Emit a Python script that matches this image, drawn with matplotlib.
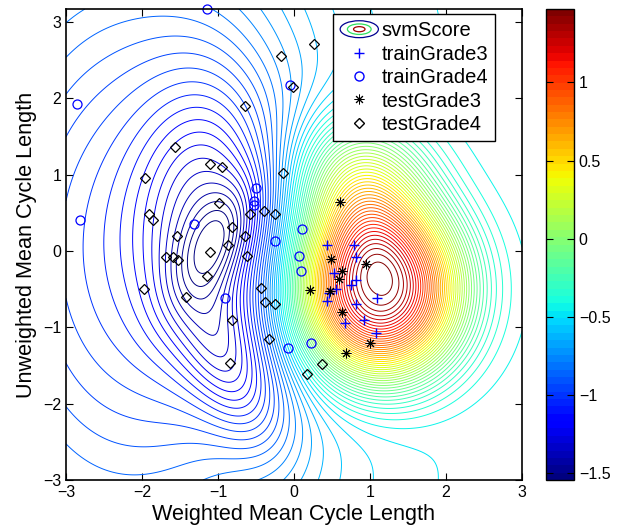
import numpy as np
import matplotlib
matplotlib.use('Agg')
import matplotlib.pyplot as plt
from matplotlib.lines import Line2D
from matplotlib.patches import Ellipse
from matplotlib.legend_handler import HandlerBase
from matplotlib.colors import Normalize
from matplotlib.cm import ScalarMappable

plt.rcParams['font.family'] = ['Liberation Sans', 'DejaVu Sans']

bias = -0.47
bump_x = [1.1, 0.85, -2.2, -1.05, -1.0, -0.75]
bump_y = [-0.5, 0.9, 0.0, 0.4, 0.15, -1.6]
bump_sx = [0.8, 0.6, 1.8, 0.65, 0.6, 0.8]
bump_sy = [0.85, 0.6, 3.2, 1.3, 0.28, 0.4]
bump_rot = [0, 0, 0, 0, 60, -65]
bump_pow = [2.4, 2, 2, 2, 2, 2]
bump_amp = [1.97, 0.75, -0.566, -0.45, -0.21, -0.31]

score_min = -1.545
score_max = 1.47
n_levels = 70

# training points
train3_x = [0.44, 0.79, 0.82, 0.52, 0.82, 0.75, 0.55, 0.46, 0.43, 1.09, 0.82, 0.92, 0.67, 1.08]
train3_y = [0.08, 0.08, -0.08, -0.29, -0.38, -0.45, -0.50, -0.55, -0.66, -0.61, -0.69, -0.90, -0.94, -1.07]
train4_x = [-1.15, -2.85, -2.82, -0.05, -0.50, -0.53, -0.53, -1.32, 0.10, -0.25, 0.07, 0.09, -0.91, -0.08, 0.23]
train4_y = [3.17, 1.93, 0.41, 2.18, 0.82, 0.65, 0.60, 0.36, 0.29, 0.13, -0.07, -0.26, -0.61, -1.27, -1.21]

# test points
test3_x = [0.61, 0.49, 0.63, 0.59, 0.95, 0.21, 0.47, 0.63, 1.00, 0.68]
test3_y = [0.64, -0.11, -0.26, -0.37, -0.17, -0.51, -0.53, -0.80, -1.21, -1.33]
test4_x = [0.26, -0.17, -0.01, -0.64, -1.56, -1.96, -1.10, -0.95, -0.15, -0.99, -1.91, -1.86,
           -0.58, -0.39, -0.25, -0.81, -1.54, -0.64, -0.87, -1.11, -0.62, -1.69, -1.59, -1.52,
           -1.15, -1.98, -1.42, -0.43, -0.38, -0.25, -0.82, -0.33, -0.84, 0.17, 0.37]
test4_y = [2.71, 2.55, 2.15, 1.90, 1.36, 0.95, 1.14, 1.10, 1.02, 0.63, 0.48, 0.41,
           0.49, 0.53, 0.48, 0.32, 0.20, 0.19, 0.08, -0.01, -0.06, -0.08, -0.08, -0.12,
           -0.33, -0.50, -0.60, -0.48, -0.67, -0.70, -0.91, -1.15, -1.47, -1.61, -1.48]

xx, yy = np.meshgrid(np.linspace(-3, 3, 301), np.linspace(-3, 3.17, 301))
score = np.full_like(xx, bias)
for cx, cy, sx, sy, rot, p, amp in zip(bump_x, bump_y, bump_sx, bump_sy,
                                       bump_rot, bump_pow, bump_amp):
    t = np.deg2rad(rot)
    dx, dy = xx - cx, yy - cy
    u = dx * np.cos(t) + dy * np.sin(t)
    v = -dx * np.sin(t) + dy * np.cos(t)
    r2 = (u / sx) ** 2 + (v / sy) ** 2
    score += amp * np.exp(-0.5 * r2 ** (p / 2))

cmap = plt.get_cmap('jet', 64)
norm = Normalize(score_min, score_max)


class ContourIcon(HandlerBase):
    def create_artists(self, legend, orig_handle, xdescent, ydescent,
                       width, height, fontsize, trans):
        cx = width / 2 - xdescent
        cy = height / 2 - ydescent
        arts = []
        for k, col in zip([1.0, 0.62, 0.3], ['#000090', '#30e060', '#a00000']):
            e = Ellipse((cx, cy), width * k, height * 1.2 * k, fill=False,
                        edgecolor=col, lw=0.9, transform=trans)
            arts.append(e)
        return arts


fig = plt.figure(figsize=(6.25, 5.27), dpi=100)
ax = fig.add_axes([0.1056, 0.0892, 0.7296, 0.8937])
cax = fig.add_axes([0.8736, 0.0892, 0.0448, 0.8937])

ax.contour(xx, yy, score, levels=np.linspace(score_min, score_max, n_levels),
           cmap=cmap, norm=norm, linewidths=0.7)
ax.plot(train3_x, train3_y, '+', color='#0000ff', ms=7, mew=1.0, ls='none')
ax.plot(train4_x, train4_y, 'o', color='#0000ff', mfc='none', ms=6.5, mew=0.9, ls='none', clip_on=False)
ax.plot(test3_x, test3_y, marker=(8, 2, 0), color='k', ms=7, mew=0.7, ls='none')
ax.plot(test4_x, test4_y, 'D', color='k', mfc='none', ms=5.5, mew=0.9, ls='none')

ax.set_xlim(-3, 3)
ax.set_ylim(-3, 3.17)
ax.set_xticks(range(-3, 4))
ax.set_yticks(range(-3, 4))
ax.tick_params(direction='in', top=True, right=True, labelsize=11.5, length=5, width=0.8)
for s in ax.spines.values():
    s.set_linewidth(1.2)
ax.set_xlabel('Weighted Mean Cycle Length', fontsize=15.6, labelpad=3)
ax.set_ylabel('Unweighted Mean Cycle Length', fontsize=15.6, labelpad=4)

handles = [Line2D([], [], color='k'),
           Line2D([], [], marker='+', color='#0000ff', ls='none', ms=7),
           Line2D([], [], marker='o', color='#0000ff', mfc='none', ls='none', ms=6.5),
           Line2D([], [], marker=(8, 2, 0), color='k', ls='none', ms=7, mew=0.7),
           Line2D([], [], marker='D', color='k', mfc='none', ls='none', ms=5.5)]
labels = ['svmScore', 'trainGrade3', 'trainGrade4', 'testGrade3', 'testGrade4']
leg = ax.legend(handles, labels, loc='upper right', bbox_to_anchor=(0.941, 0.989),
                fontsize=14.5, fancybox=False, framealpha=1, edgecolor='k',
                handlelength=1.9, handletextpad=0.15, borderpad=0.35,
                labelspacing=0.22, borderaxespad=0.0,
                handler_map={handles[0]: ContourIcon()})
leg.get_frame().set_linewidth(1.0)

sm = ScalarMappable(norm=norm, cmap=cmap)
cb = fig.colorbar(sm, cax=cax, ticks=[-1.5, -1, -0.5, 0, 0.5, 1])
cb.ax.set_yticklabels(['\u22121.5', '\u22121', '\u22120.5', '0', '0.5', '1'])
cb.ax.tick_params(direction='in', left=True, right=True, labelsize=11.5, length=5, width=0.8)
cb.outline.set_linewidth(1.0)

fig.savefig('out.png', dpi=100)
